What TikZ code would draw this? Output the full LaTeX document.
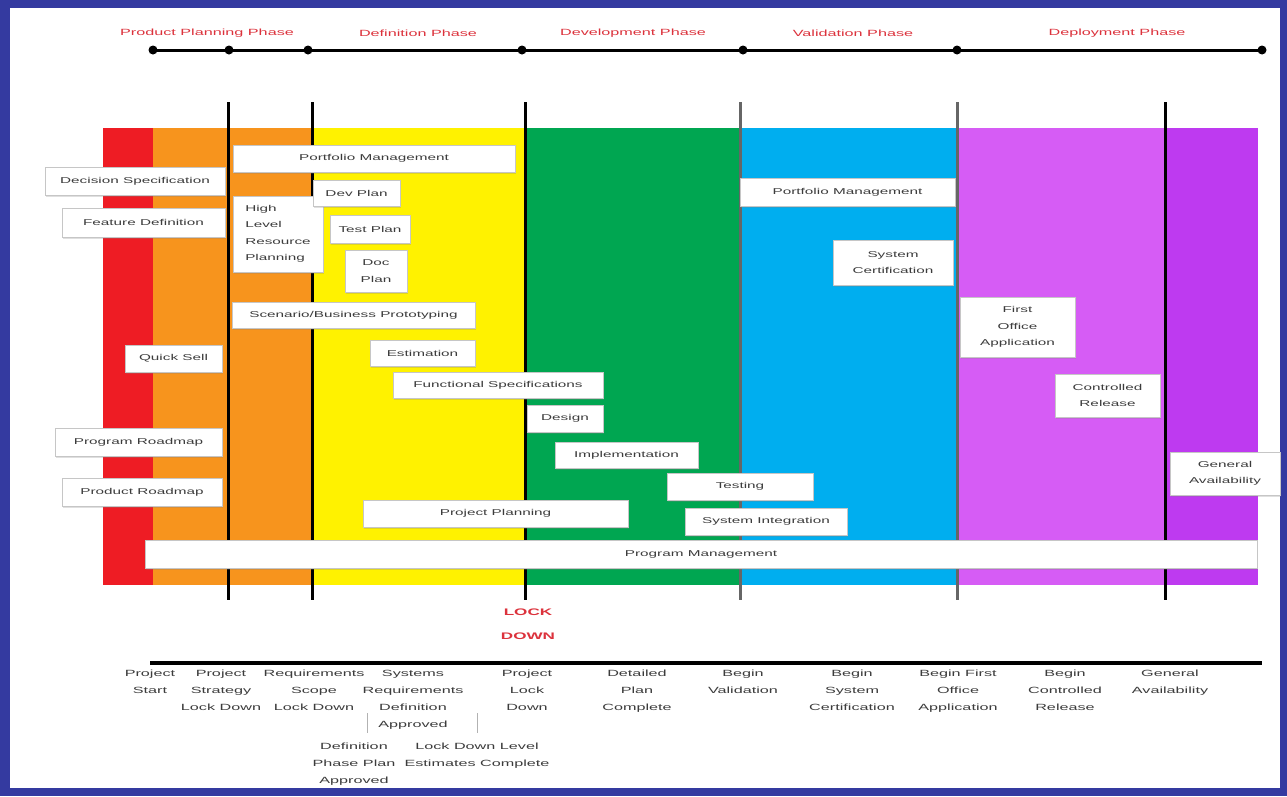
\documentclass[tikz,border=0pt]{standalone}
\usepackage{fontspec}
\setmainfont{Liberation Sans}[FakeStretch=1.8]
\usetikzlibrary{shadows}
\definecolor{frameblue}{RGB}{52,58,160}
\definecolor{cred}{RGB}{238,28,36}
\definecolor{corange}{RGB}{247,148,29}
\definecolor{cyellow}{RGB}{255,242,0}
\definecolor{cgreen}{RGB}{0,166,81}
\definecolor{cblue}{RGB}{0,174,239}
\definecolor{cviolet}{RGB}{214,92,245}
\definecolor{cpurple}{RGB}{190,58,240}
\definecolor{txtgray}{RGB}{60,60,60}
\definecolor{hdrred}{RGB}{220,50,60}
\tikzset{
  box/.style={draw=gray!45, fill=white, line width=0.8pt, inner sep=2pt, text=txtgray,
    font=\fontsize{8.5}{16.5}\selectfont, align=center,
    drop shadow={shadow xshift=1pt, shadow yshift=-1.5pt, opacity=0.25}},
  hdr/.style={text=hdrred, font=\fontsize{9}{11}\selectfont},
  blabel/.style={text=txtgray, font=\fontsize{9}{17}\selectfont, align=center, anchor=north, inner sep=0pt},
  vline/.style={line width=3pt, black},
  gline/.style={line width=3pt, black!60},
  tline/.style={line width=3pt, black},
  dot/.style={circle, fill=black, inner sep=0pt, minimum size=9pt},
  tick/.style={gray!60, line width=0.6pt}
}
\begin{document}
\begin{tikzpicture}[x=1pt,y=-1pt]
\useasboundingbox (0,0) rectangle (1287,796);
% frame
\fill[frameblue] (0,0) rectangle (1287,796);
\fill[white] (10,8) rectangle (1280,788);

% phase columns
\fill[cred] (103,128) rectangle (153,585);
\fill[corange] (153,128) rectangle (312,585);
\fill[cyellow] (312,128) rectangle (525,585);
\fill[cgreen] (525,128) rectangle (740,585);
\fill[cblue] (740,128) rectangle (957,585);
\fill[cviolet] (957,128) rectangle (1165,585);
\fill[cpurple] (1165,128) rectangle (1258,585);

% vertical separators
\coordinate (v1t) at (228,102); \coordinate (v1b) at (228,600);
\coordinate (v2t) at (312,102); \coordinate (v2b) at (312,600);
\coordinate (v3t) at (525,102); \coordinate (v3b) at (525,600);
\coordinate (v4t) at (740,102); \coordinate (v4b) at (740,600);
\coordinate (v5t) at (957,102); \coordinate (v5b) at (957,600);
\coordinate (v6t) at (1165,102); \coordinate (v6b) at (1165,600);
\draw[vline] (v1t) -- (v1b);
\draw[vline] (v2t) -- (v2b);
\draw[vline] (v3t) -- (v3b);
\draw[gline] (v4t) -- (v4b);
\draw[gline] (v5t) -- (v5b);
\draw[vline] (v6t) -- (v6b);

% top timeline
\node[dot] (t0) at (153,50) {};
\node[dot] (t1) at (229,50) {};
\node[dot] (t2) at (308,50) {};
\node[dot] (t3) at (522,50) {};
\node[dot] (t4) at (743,50) {};
\node[dot] (t5) at (957,50) {};
\node[dot] (t6) at (1262,50) {};
\draw[tline] (t0.center) -- (t6.center);
\node[hdr] (h1) at (207,33) {Product Planning Phase};
\node[hdr] (h2) at (418,33) {Definition Phase};
\node[hdr] (h3) at (633,33) {Development Phase};
\node[hdr] (h4) at (853,33) {Validation Phase};
\node[hdr] (h5) at (1117,33) {Deployment Phase};

% activity boxes
\node[box, minimum width=282pt, minimum height=27pt] (pm1) at (374,158.5) {Portfolio Management};
\node[box, minimum width=180pt, minimum height=28pt] (ds) at (135,181) {Decision Specification};
\node[box, minimum width=163pt, minimum height=29pt] (fd) at (143.5,222.5) {Feature Definition};
\node[box, minimum width=90pt, minimum height=76pt, align=left] (hl) at (278,234) {High\\Level\\Resource\\Planning};
\node[box, minimum width=87pt, minimum height=26pt] (dev) at (356.5,193) {Dev Plan};
\node[box, minimum width=80pt, minimum height=28pt] (tp) at (370,229) {Test Plan};
\node[box, minimum width=62pt, minimum height=42pt] (doc) at (376,271) {Doc\\Plan};
\node[box, minimum width=243pt, minimum height=26pt] (sbp) at (353.5,315) {Scenario/Business Prototyping};
\node[box, minimum width=105pt, minimum height=26pt] (est) at (422.5,353) {Estimation};
\node[box, minimum width=210pt, minimum height=26pt] (fs) at (498,385) {Functional Specifications};
\node[box, minimum width=76pt, minimum height=27pt] (des) at (565,418.5) {Design};
\node[box, minimum width=143pt, minimum height=26pt] (imp) at (626.5,455) {Implementation};
\node[box, minimum width=146pt, minimum height=27pt] (tst) at (740,486.5) {Testing};
\node[box, minimum width=162pt, minimum height=27pt] (si) at (766,521.5) {System Integration};
\node[box, minimum width=265pt, minimum height=27pt] (pp) at (495.5,513.5) {Project Planning};
\node[box, minimum width=1112pt, minimum height=28pt] (prm) at (701,554) {Program Management};
\node[box, minimum width=97pt, minimum height=27pt] (qs) at (173.5,358.5) {Quick Sell};
\node[box, minimum width=167pt, minimum height=28pt] (pr) at (138.5,442) {Program Roadmap};
\node[box, minimum width=160pt, minimum height=28pt] (pdr) at (142,492) {Product Roadmap};
\node[box, minimum width=215pt, minimum height=28pt] (pm2) at (847.5,192) {Portfolio Management};
\node[box, minimum width=120pt, minimum height=45pt] (sc) at (893,262.5) {System\\Certification};
\node[box, minimum width=115pt, minimum height=60pt] (foa) at (1017.5,327) {First\\Office\\Application};
\node[box, minimum width=105pt, minimum height=43pt] (cr) at (1107.5,395.5) {Controlled\\Release};
\node[box, minimum width=110pt, minimum height=43pt] (ga) at (1225,473.5) {General\\Availability};

% lock down
\node[text=hdrred, font=\bfseries\fontsize{9.5}{24}\selectfont, align=center] (lock) at (528,624) {LOCK\\DOWN};

% bottom timeline
\coordinate (bl) at (150,663);
\coordinate (br) at (1262,663);
\draw[line width=4pt] (bl) -- (br);

\node[blabel] (m1) at (150,670) {Project\\Start};
\node[blabel] (m2) at (221,670) {Project\\Strategy\\Lock Down};
\node[blabel] (m3) at (314,670) {Requirements\\Scope\\Lock Down};
\node[blabel] (m4) at (413,670) {Systems\\Requirements\\Definition\\Approved};
\node[blabel] (m5) at (527,670) {Project\\Lock\\Down};
\node[blabel] (m6) at (637,670) {Detailed\\Plan\\Complete};
\node[blabel] (m7) at (743,670) {Begin\\Validation};
\node[blabel] (m8) at (852,670) {Begin\\System\\Certification};
\node[blabel] (m9) at (958,670) {Begin First\\Office\\Application};
\node[blabel] (m10) at (1065,670) {Begin\\Controlled\\Release};
\node[blabel] (m11) at (1170,670) {General\\Availability};
\node[blabel] (m12) at (354,743) {Definition\\Phase Plan\\Approved};
\node[blabel] (m13) at (477,743) {Lock Down Level\\Estimates Complete};
\coordinate (k1a) at (367,713); \coordinate (k1b) at (367,733);
\coordinate (k2a) at (477,713); \coordinate (k2b) at (477,733);
\draw[tick] (k1a) -- (k1b);
\draw[tick] (k2a) -- (k2b);
\end{tikzpicture}
\end{document}
